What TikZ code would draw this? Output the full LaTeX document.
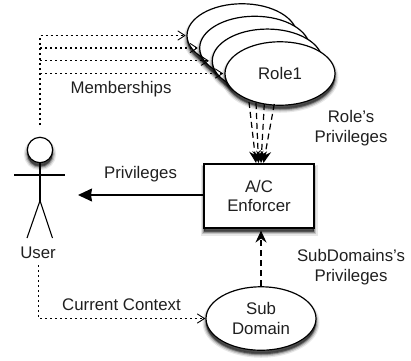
\documentclass[tikz,border=0pt]{standalone}
\usepackage{fontspec}
\setmainfont{Liberation Sans}
\usetikzlibrary{arrows.meta,shapes.geometric,shadows}
\tikzset{
  softshadow/.style={
    general shadow={shadow xshift=0pt,shadow yshift=-4pt,draw=black,fill=black,line width=7pt,opacity=.09},
    general shadow={shadow xshift=0pt,shadow yshift=-4pt,draw=black,fill=black,line width=4.5pt,opacity=.16},
    general shadow={shadow xshift=0pt,shadow yshift=-4pt,draw=black,fill=black,line width=2pt,opacity=.25},
    general shadow={shadow xshift=0pt,shadow yshift=-3pt,fill=black,opacity=.4}},
  label text/.style={font=\fontsize{16.8}{19.8}\selectfont,align=center,inner sep=0pt,text=black!88},
  role/.style={ellipse,draw=black,fill=white,line width=1.2pt,minimum width=110pt,minimum height=63.5pt,inner sep=0pt,softshadow,label text},
  box/.style={rectangle,draw=black,fill=white,line width=1.1pt,minimum width=110pt,minimum height=64pt,inner sep=0pt,softshadow,label text},
  stick/.style={draw=black,line width=1.1pt},
  dotline/.style={draw=black,line width=1.3pt,dash pattern=on 2pt off 3pt},
  dotarrow/.style={dotline,-{Straight Barb[length=7pt,width=9pt,line width=.9pt,round]}},
  dashline/.style={draw=black,line width=1.2pt,dash pattern=on 6pt off 4pt,-{Stealth[length=12pt,width=11pt,inset=4pt]}},
  solidline/.style={draw=black,line width=1.3pt,-{Stealth[length=14pt,width=13pt,inset=1pt]}}
}
\begin{document}
\begin{tikzpicture}[x=1pt,y=-1pt]
\useasboundingbox (0,0) rectangle (411,360);
% role stack
\node[role] (r4) at (242,35.5) {};
\node[role] (r3) at (254.7,48) {};
\node[role] (r2) at (267.3,60.8) {};
\node[role] (r1) at (280,73.5) {Role1};
% enforcer and subdomain
\node[box] (ac) at (259,196) {A/C\\Enforcer};
\node[role] (sd) at (261,318.5) {Sub\\Domain};
% actor
\node[circle,draw=black,fill=white,line width=1.2pt,minimum size=25.4pt,inner sep=0pt,softshadow] (head) at (40,150) {};
\coordinate (hip) at (40,200.7);
\coordinate (shl) at (14,175);
\coordinate (shr) at (65,175);
\coordinate (footl) at (27,238);
\coordinate (footr) at (52.5,238);
\draw[stick] (head.south) -- (hip);
\draw[stick] (shl) -- (shr);
\draw[stick] (footl) -- (hip) -- (footr);
\node[label text] (user) at (38,253) {User};
% labels
\node[label text] (memb) at (121,89.5) {Memberships};
\node[label text] (priv) at (140.5,174) {Privileges};
\node[label text] (rolep) at (351,128) {Role\symbol{39}s\\Privileges};
\node[label text] (subp) at (351,267) {SubDomains\symbol{39}s\\Privileges};
\node[label text] (ctx) at (121.5,305) {Current Context};
% memberships
\coordinate (trunk) at (40,125);
\draw[dotarrow,shorten >=1pt] (trunk) |- (r4.west);
\draw[dotarrow,shorten >=1.5pt] (trunk |- r3.west) -- (r3.west);
\draw[dotarrow,shorten >=3pt] (trunk |- r2.west) -- (r2.west);
\draw[dotarrow,shorten >=1.5pt] (trunk |- r1.west) -- (r1.west);
% context
\coordinate (ctxs) at (38.5,265);
\draw[dotarrow,shorten >=0.5pt] (ctxs) |- (sd.west);
% privileges
\coordinate (userr) at (78,195);
\draw[solidline] (ac.west |- userr) -- (userr);
% role privileges
\coordinate (a1) at (249,102);
\coordinate (a2) at (256,103);
\coordinate (a3) at (264.3,104);
\coordinate (a4) at (274.3,104);
\coordinate (b1) at (256,163);
\coordinate (b2) at (258.5,163);
\coordinate (b3) at (261,163);
\coordinate (b4) at (263.5,163);
\draw[dashline] (a1) -- (b1);
\draw[dashline] (a2) -- (b2);
\draw[dashline] (a3) -- (b3);
\draw[dashline] (a4) -- (b4);
% subdomain privileges
\draw[dashline,shorten >=2pt] (sd.north) -- (sd.north |- ac.south);
\end{tikzpicture}
\end{document}
